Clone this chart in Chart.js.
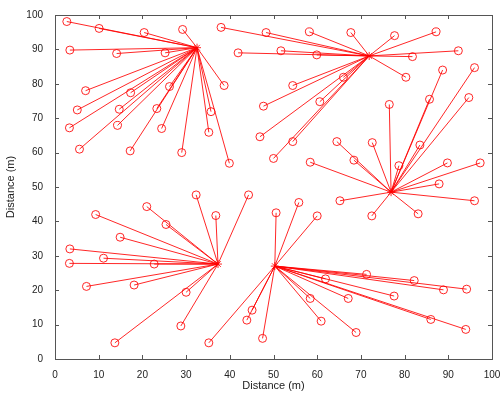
<!DOCTYPE html>
<html>
<head>
<meta charset="utf-8">
<script src="https://cdn.jsdelivr.net/npm/chart.js@4.4.0/dist/chart.umd.min.js"></script>
<style>
  html, body { margin: 0; padding: 0; background: #fff; }
  #wrap { width: 504px; height: 397px; }
</style>
</head>
<body>
<div id="wrap"><canvas id="netChart"></canvas></div>
<script>
// cluster heads
const headX = [32.5, 71.9, 76.9, 37.3, 50.3];
const headY = [90.5, 88.1, 48.5, 27.6, 27.0];

// member nodes of each cluster
const c1X = [2.7, 10.1, 20.4, 29.2, 3.4, 14.1, 25.2, 38.7, 7.0, 17.3, 26.2, 5.1, 14.7, 23.3, 35.7, 3.3, 14.3, 24.4, 35.2, 5.6, 17.2, 29.0, 39.9];
const c1Y = [98.1, 96.1, 94.9, 95.8, 89.8, 88.8, 89.0, 79.5, 78.0, 77.4, 79.2, 72.4, 72.6, 72.8, 71.9, 67.2, 67.9, 67.0, 65.9, 61.0, 60.5, 60.0, 56.9];

const c2X = [38.0, 41.9, 48.3, 58.2, 67.7, 77.7, 87.2, 51.7, 59.9, 81.8, 92.3, 80.3, 54.4, 66.0, 47.7, 60.6, 46.9, 54.4, 50.0];
const c2Y = [96.4, 89.0, 94.9, 95.1, 94.9, 94.0, 95.1, 89.6, 88.4, 87.9, 89.6, 81.9, 79.5, 81.9, 73.5, 74.8, 64.6, 63.2, 58.3];

const c3X = [76.5, 88.7, 96.0, 85.7, 94.7, 64.5, 72.6, 68.4, 58.4, 78.7, 83.5, 89.8, 97.3, 87.9, 65.2, 96.0, 72.5, 83.1];
const c3Y = [74.0, 84.0, 84.7, 75.5, 76.0, 63.2, 62.9, 57.8, 57.2, 56.2, 62.2, 57.0, 57.0, 50.9, 46.0, 46.0, 41.6, 42.2];

const c4X = [32.3, 44.3, 36.8, 21.0, 25.4, 9.3, 14.9, 3.4, 11.1, 3.3, 22.7, 7.2, 18.1, 30.0, 28.8, 13.7];
const c4Y = [47.7, 47.7, 41.7, 44.3, 39.1, 42.0, 35.4, 32.0, 29.3, 27.8, 27.6, 21.1, 21.5, 19.4, 9.6, 4.7];

const c5X = [35.2, 43.9, 45.1, 47.5, 50.6, 55.8, 60.0, 61.9, 71.3, 82.2, 88.9, 94.2, 58.4, 67.1, 77.6, 60.9, 68.9, 86.0, 94.0];
const c5Y = [4.7, 11.3, 14.2, 6.0, 42.5, 45.5, 41.6, 23.3, 24.6, 22.8, 20.1, 20.3, 17.6, 17.6, 18.3, 11.0, 7.7, 11.5, 8.6];

const axisTicks = [0, 10, 20, 30, 40, 50, 60, 70, 80, 90, 100];

const clustersX = [c1X, c2X, c3X, c4X, c5X];
const clustersY = [c1Y, c2Y, c3Y, c4Y, c5Y];

const RED = 'rgba(255, 0, 0, 0.85)';

const datasets = [];
clustersX.forEach((xs, k) => {
    xs.forEach((x, i) => {
        datasets.push({
            data: [{ x: headX[k], y: headY[k] }, { x: x, y: clustersY[k][i] }],
            showLine: true,
            borderColor: RED,
            borderWidth: 1,
            pointRadius: 0
        });
    });
});

const nodePts = [];
clustersX.forEach((xs, k) => xs.forEach((x, i) => nodePts.push({ x: x, y: clustersY[k][i] })));
datasets.push({
    data: nodePts,
    pointStyle: 'circle',
    pointRadius: 4,
    pointBorderWidth: 1,
    pointBorderColor: RED,
    pointBackgroundColor: 'rgba(0,0,0,0)'
});
datasets.push({
    data: headX.map((x, i) => ({ x: x, y: headY[i] })),
    pointStyle: 'star',
    pointRadius: 4,
    pointBorderWidth: 1,
    pointBorderColor: RED,
    pointBackgroundColor: RED
});

// MATLAB style box with inward ticks
const boxPlugin = {
    id: 'box',
    afterDraw(chart) {
        const { ctx, chartArea: a, scales } = chart;
        ctx.save();
        ctx.strokeStyle = '#555';
        ctx.lineWidth = 1;
        ctx.strokeRect(a.left + 0.5, a.top + 0.5, a.right - a.left, a.bottom - a.top);
        ctx.beginPath();
        axisTicks.forEach(v => {
            const px = Math.round(scales.x.getPixelForValue(v)) + 0.5;
            ctx.moveTo(px, a.bottom); ctx.lineTo(px, a.bottom - 4);
            ctx.moveTo(px, a.top); ctx.lineTo(px, a.top + 4);
            const py = Math.round(scales.y.getPixelForValue(v)) + 0.5;
            ctx.moveTo(a.left, py); ctx.lineTo(a.left + 4, py);
            ctx.moveTo(a.right, py); ctx.lineTo(a.right - 4, py);
        });
        ctx.stroke();
        ctx.restore();
    }
};

new Chart(document.getElementById('netChart'), {
    type: 'scatter',
    data: { datasets: datasets },
    options: {
        responsive: true,
        maintainAspectRatio: false,
        animation: false,
        layout: { padding: { top: 15, right: 12, left: 0, bottom: 0 } },
        plugins: { legend: { display: false }, tooltip: { enabled: false } },
        scales: {
            x: {
                type: 'linear', min: 0, max: 100,
                afterFit: s => { s.height = 38; },
                afterBuildTicks: s => { s.ticks = axisTicks.map(v => ({ value: v })); },
                grid: { display: false },
                border: { display: false },
                ticks: { color: '#222', font: { family: 'Liberation Sans', size: 10 }, padding: 2, maxRotation: 0 },
                title: { display: true, text: 'Distance (m)', color: '#222', font: { family: 'Liberation Sans', size: 11 }, padding: { top: 0 } }
            },
            y: {
                type: 'linear', min: 0, max: 100,
                afterFit: s => { s.width = 55; },
                afterBuildTicks: s => { s.ticks = axisTicks.map(v => ({ value: v })); },
                grid: { display: false },
                border: { display: false },
                ticks: { color: '#222', font: { family: 'Liberation Sans', size: 10 }, padding: 4 },
                title: { display: true, text: 'Distance (m)', color: '#222', font: { family: 'Liberation Sans', size: 11 }, padding: { bottom: 2 } }
            }
        }
    },
    plugins: [boxPlugin]
});
</script>
</body>
</html>
